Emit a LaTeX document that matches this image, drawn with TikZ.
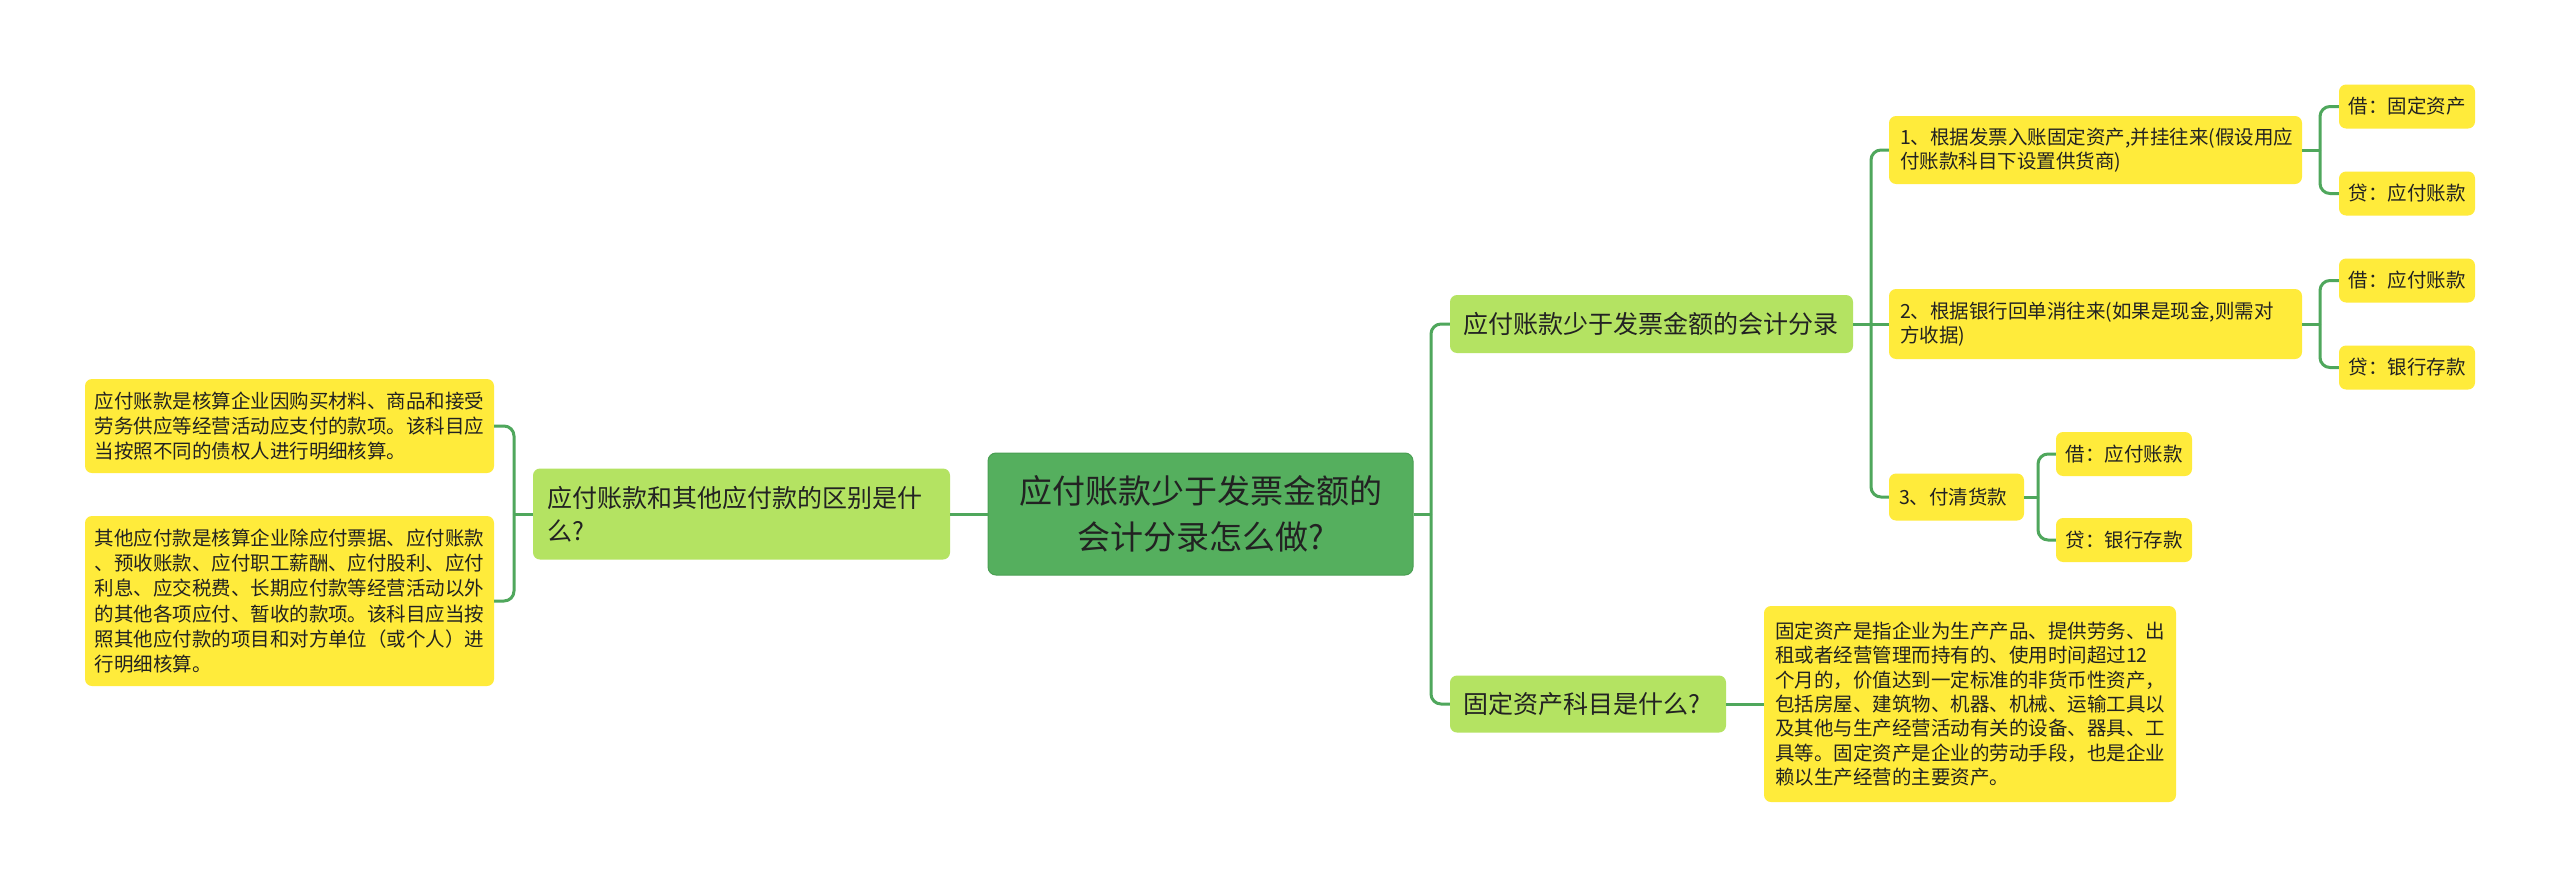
\documentclass[tikz,border=0pt]{standalone}
\usepackage{fontspec}
\setmainfont{Noto Sans CJK SC}
\definecolor{rootg}{HTML}{55AF5E}
\definecolor{rootb}{HTML}{4A9F53}
\definecolor{brg}{HTML}{B4E362}
\definecolor{leafy}{HTML}{FFEB3B}
\definecolor{lineg}{HTML}{4FA75C}
\definecolor{txt}{HTML}{222222}
\begin{document}
\begin{tikzpicture}[x=1pt,y=-1pt,
  base/.style={rectangle, rounded corners=7pt, inner ysep=0pt, text=txt, align=left},
  rootbox/.style={base, fill=rootg, draw=rootb, line width=1pt, align=center, rounded corners=8pt, font=\fontsize{33}{46.5}\selectfont},
  branch/.style={base, fill=brg, font=\fontsize{25}{33}\selectfont},
  leaf/.style={base, fill=leafy, font=\fontsize{19.5}{25.3}\selectfont},
  small/.style={leaf, text width=117pt, inner xsep=9.5pt, minimum height=44pt},
  conn/.style={draw=lineg, line width=3pt, rounded corners=10pt},
]
\fill[white] (0,0) rectangle (2560,886);
\useasboundingbox (0,0) rectangle (2560,886);

% nodes
\node[rootbox, text width=400pt, inner xsep=12.5pt, minimum height=122pt] (root) at (1200.5,514) {应付账款少于发票金额的\\会计分录怎么做?};

\node[branch, text width=389pt, inner xsep=14pt, minimum height=91pt] (l1) at (741.5,514) {应付账款和其他应付款的区别是什\\么?};

\node[leaf, text width=390pt, inner xsep=9.5pt, minimum height=94pt] (ll1) at (289.5,426) {应付账款是核算企业因购买材料、商品和接受\\劳务供应等经营活动应支付的款项。该科目应\\当按照不同的债权人进行明细核算。};

\node[leaf, text width=390pt, inner xsep=9.5pt, minimum height=170pt] (ll2) at (289.5,601) {其他应付款是核算企业除应付票据、应付账款\\、预收账款、应付职工薪酬、应付股利、应付\\利息、应交税费、长期应付款等经营活动以外\\的其他各项应付、暂收的款项。该科目应当按\\照其他应付款的项目和对方单位（或个人）进\\行明细核算。};

\node[branch, text width=377pt, inner xsep=13pt, minimum height=58pt] (r1) at (1651.5,324) {应付账款少于发票金额的会计分录};

\node[branch, text width=250pt, inner xsep=13pt, minimum height=57pt] (r2) at (1588,704) {固定资产科目是什么?};

\node[leaf, text width=391pt, inner xsep=11pt, minimum height=68pt, font=\fontsize{19.5}{24}\selectfont] (c1) at (2095.5,150) {1、根据发票入账固定资产,并挂往来(假设用应\\付账款科目下设置供货商)};

\node[leaf, text width=391pt, inner xsep=11pt, minimum height=70pt, font=\fontsize{19.5}{24}\selectfont] (c2) at (2095.5,324) {2、根据银行回单消往来(如果是现金,则需对\\方收据)};

\node[leaf, text width=115pt, inner xsep=10pt, minimum height=47pt] (c3) at (1956.5,497) {3、付清货款};

\node[small] (d1) at (2407,106.5) {借：固定资产};
\node[small] (d2) at (2407,193.5) {贷：应付账款};
\node[small] (d3) at (2407,280.5) {借：应付账款};
\node[small] (d4) at (2407,367.5) {贷：银行存款};
\node[small] (e1) at (2124,454) {借：应付账款};
\node[small] (e2) at (2124,540) {贷：银行存款};

\node[leaf, text width=390pt, inner xsep=11pt, minimum height=196pt, font=\fontsize{19.5}{24.4}\selectfont] (f) at (1970,704) {固定资产是指企业为生产产品、提供劳务、出\\租或者经营管理而持有的、使用时间超过12\\个月的，价值达到一定标准的非货币性资产，\\包括房屋、建筑物、机器、机械、运输工具以\\及其他与生产经营活动有关的设备、器具、工\\具等。固定资产是企业的劳动手段，也是企业\\赖以生产经营的主要资产。};

% junctions
\coordinate (jL) at (514,514);
\coordinate (jR) at (1431,514);
\coordinate (jC) at (1871,324);
\coordinate (jD1) at (2320,150);
\coordinate (jD2) at (2320,324);
\coordinate (jE) at (2038,497);

% connectors
\draw[conn] (root.west) -- (l1.east);
\draw[conn] (l1.west) -- (jL);
\draw[conn] (jL) |- (ll1.east);
\draw[conn] (jL) |- (ll2.east);

\draw[conn] (root.east) -- (jR);
\draw[conn] (jR) |- (r1.west);
\draw[conn] (jR) |- (r2.west);

\draw[conn] (r1.east) -- (jC);
\draw[conn] (jC) |- (c1.west);
\draw[conn] (jC) -- (c2.west);
\draw[conn] (jC) |- (c3.west);

\draw[conn] (c1.east) -- (jD1);
\draw[conn] (jD1) |- (d1.west);
\draw[conn] (jD1) |- (d2.west);

\draw[conn] (c2.east) -- (jD2);
\draw[conn] (jD2) |- (d3.west);
\draw[conn] (jD2) |- (d4.west);

\draw[conn] (c3.east) -- (jE);
\draw[conn] (jE) |- (e1.west);
\draw[conn] (jE) |- (e2.west);

\draw[conn] (r2.east) -- (f.west);
\end{tikzpicture}
\end{document}
